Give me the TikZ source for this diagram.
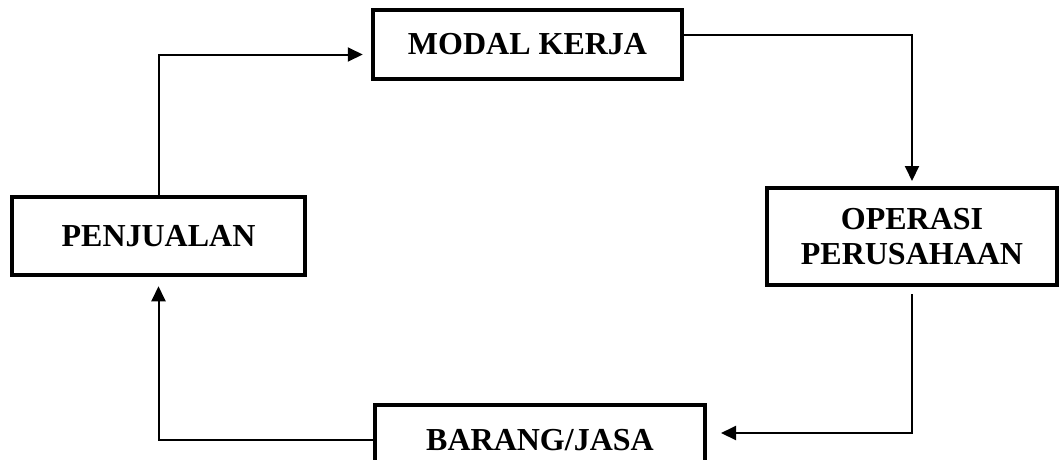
\documentclass[tikz,border=0pt]{standalone}
\usepackage{fontspec}
\setmainfont{Liberation Serif}
\usepgflibrary{arrows.meta}
\tikzset{
  kotak/.style={draw,line width=4.5pt,inner sep=0pt,align=center,
    font=\bfseries\fontsize{32}{35}\selectfont},
  panah/.style={line width=2pt,-{Triangle[length=15pt,width=14pt]}}
}

\begin{document}
\begin{tikzpicture}[x=1pt,y=-1pt]
    \useasboundingbox (0,0) rectangle (1060,459);
    % kotak siklus modal kerja
    \node[kotak,minimum width=309pt,minimum height=69pt] (modal) at (527.5,44.5) {MODAL KERJA};
    \node[kotak,minimum width=293pt,minimum height=78pt] (jual) at (158.5,236) {PENJUALAN};
    \node[kotak,line width=4pt,minimum width=290pt,minimum height=97pt] (operasi) at (912,236.5) {OPERASI\\PERUSAHAAN};
    \node[kotak,line width=4pt,minimum width=330pt,minimum height=70pt] (barang) at (540,440) {BARANG/JASA};
    % panah
    \draw[panah,shorten >=8pt] (jual.north) |- ([yshift=-10pt]modal.west);
    \draw[panah,shorten >=5pt] ([yshift=10pt]modal.east) -| (operasi.north);
    \draw[panah,shorten <=7pt,shorten >=14pt] (operasi.south) |- ([yshift=7pt]barang.east);
    \draw[panah,shorten >=9pt] (barang.west) -| (jual.south);
\end{tikzpicture}
\end{document}
